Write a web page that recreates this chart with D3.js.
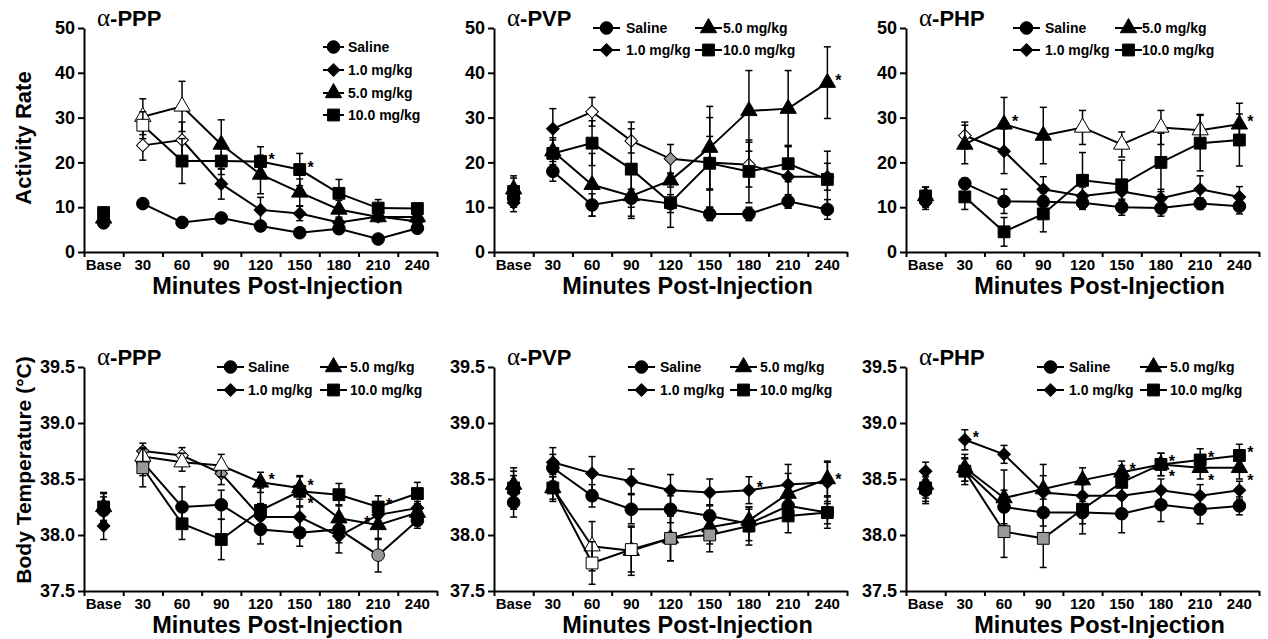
<!DOCTYPE html>
<html>
<head>
<meta charset="utf-8">
<script src="https://cdn.jsdelivr.net/npm/d3@7"></script>
<style>
  body { margin: 0; background: #fff; }
  svg { font-family: Arial, "Liberation Sans", sans-serif; font-weight: bold; }
</style>
</head>
<body>
<svg width="1268" height="639"></svg>
<script>
// categories and labels
const categories = ["Base", "30", "60", "90", "120", "150", "180", "210", "240"];
const doses = ["Saline", "1.0 mg/kg", "5.0 mg/kg", "10.0 mg/kg"];
const activityTicks = [0, 10, 20, 30, 40, 50];
const tempTicks = [37.5, 38.0, 38.5, 39.0, 39.5];

// fill codes: k = black, w = open, g = grey
// alpha-PPP activity
const pppActMean = [
  [6.5, 10.8, 6.6, 7.6, 5.8, 4.3, 5.2, 2.9, 5.3],
  [7.0, 23.8, 25.0, 15.2, 9.4, 8.6, 6.6, 7.9, 6.8],
  [7.5, 30.2, 32.5, 24.0, 17.3, 13.3, 9.5, 7.8, 7.8],
  [8.8, 28.3, 20.3, 20.3, 20.2, 18.4, 13.1, 9.8, 9.7]
];
const pppActErr = [
  [0.6, 1.0, 0.8, 0.8, 0.8, 0.6, 0.8, 0.6, 0.8],
  [0.8, 3.3, 4.0, 3.4, 2.8, 1.6, 1.2, 1.0, 1.0],
  [0.8, 4.0, 5.6, 5.5, 4.3, 3.0, 2.0, 1.0, 1.0],
  [0.8, 3.0, 5.0, 3.0, 3.3, 3.6, 3.1, 1.9, 1.0]
];
const pppActFill = ["kkkkkkkkk", "kwwkkkkkk", "kwwkkkkkk", "kwkkkkkkk"];
const pppActStars = [[3, 4, "ur"], [3, 5, "ur"]];

// alpha-PVP activity
const pvpActMean = [
  [12.0, 18.0, 10.5, 12.0, 10.8, 8.5, 8.5, 11.3, 9.5],
  [11.0, 27.5, 31.3, 24.8, 20.8, 20.0, 19.5, 16.8, 16.8],
  [14.0, 22.5, 15.0, 12.5, 16.0, 23.3, 31.5, 32.0, 37.8],
  [13.5, 22.0, 24.3, 18.5, 11.0, 19.8, 18.0, 19.7, 16.2]
];
const pvpActErr = [
  [2.0, 2.2, 2.5, 2.0, 2.0, 1.5, 1.5, 1.5, 2.2],
  [2.0, 4.5, 3.2, 2.7, 3.2, 10.0, 5.0, 7.0, 3.0],
  [3.0, 3.0, 7.0, 5.0, 1.5, 9.2, 9.0, 8.5, 8.0],
  [3.0, 3.0, 5.0, 10.5, 5.5, 6.0, 7.0, 4.0, 6.3]
];
const pvpActFill = ["kkkkkkkkk", "kkwwgkwkk", "kkkkkkkkk", "kkkkkkkkk"];
const pvpActStars = [[2, 8, "ur"]];

// alpha-PHP activity
const phpActMean = [
  [11.5, 15.3, 11.3, 11.2, 11.0, 10.0, 9.8, 10.8, 10.2],
  [11.0, 26.0, 22.5, 14.0, 12.5, 13.5, 12.0, 14.0, 12.3],
  [12.5, 24.0, 28.5, 26.0, 27.8, 24.0, 27.8, 27.2, 28.5],
  [12.5, 12.3, 4.5, 8.5, 16.0, 15.0, 20.0, 24.3, 25.0]
];
const phpActErr = [
  [1.5, 1.2, 2.7, 2.0, 1.5, 1.8, 1.8, 1.3, 1.7],
  [1.5, 3.0, 5.0, 2.8, 2.0, 2.0, 2.0, 3.0, 2.3],
  [2.0, 4.3, 6.0, 6.3, 3.8, 2.8, 3.8, 3.5, 4.7],
  [2.0, 2.8, 3.2, 4.0, 6.2, 5.5, 6.5, 6.2, 5.8]
];
const phpActFill = ["kkkkkkkkk", "kwkkkkkkk", "kkkkwwwwk", "kkkkkkkkk"];
const phpActStars = [[2, 2, "ur"], [2, 8, "ur"]];

// alpha-PPP temperature
const pppTempMean = [
  [38.22, 38.65, 38.25, 38.27, 38.05, 38.02, 38.05, 37.82, 38.13],
  [38.08, 38.75, 38.71, 38.55, 38.16, 38.16, 37.99, 38.18, 38.24],
  [38.25, 38.70, 38.65, 38.62, 38.47, 38.42, 38.15, 38.09, 38.20],
  [38.25, 38.60, 38.10, 37.96, 38.22, 38.39, 38.36, 38.25, 38.37]
];
const pppTempErr = [
  [0.12, 0.12, 0.18, 0.13, 0.13, 0.12, 0.12, 0.15, 0.07],
  [0.12, 0.07, 0.07, 0.10, 0.12, 0.10, 0.15, 0.10, 0.06],
  [0.12, 0.08, 0.08, 0.10, 0.09, 0.10, 0.12, 0.13, 0.08],
  [0.13, 0.17, 0.14, 0.18, 0.20, 0.14, 0.10, 0.10, 0.10]
];
const pppTempFill = ["kkkkkkkgk", "kgwgkkkkk", "kwwwkkkkk", "kgkkkkkkk"];
const pppTempStars = [[2, 4, "ur"], [2, 5, "ur"], [3, 5, "lr"], [3, 7, "ur"], [2, 7, "ul"]];

// alpha-PVP temperature
const pvpTempMean = [
  [38.29, 38.60, 38.35, 38.23, 38.23, 38.17, 38.10, 38.26, 38.20],
  [38.38, 38.65, 38.55, 38.48, 38.40, 38.38, 38.40, 38.45, 38.47],
  [38.45, 38.42, 37.90, 37.86, 37.97, 38.07, 38.13, 38.37, 38.50],
  [38.42, 38.42, 37.75, 37.87, 37.97, 38.00, 38.08, 38.17, 38.20]
];
const pvpTempErr = [
  [0.13, 0.12, 0.10, 0.13, 0.12, 0.10, 0.15, 0.10, 0.10],
  [0.15, 0.13, 0.15, 0.11, 0.14, 0.12, 0.12, 0.18, 0.19],
  [0.15, 0.10, 0.22, 0.22, 0.20, 0.15, 0.10, 0.18, 0.15],
  [0.15, 0.12, 0.19, 0.20, 0.20, 0.15, 0.17, 0.15, 0.14]
];
const pvpTempFill = ["kkkkkkkkk", "kkkkkkkkk", "kkwkkkkkk", "kkwwggkkk"];
const pvpTempStars = [[1, 6, "ur"], [1, 8, "ur"]];

// alpha-PHP temperature
const phpTempMean = [
  [38.40, 38.58, 38.25, 38.20, 38.20, 38.19, 38.27, 38.23, 38.26],
  [38.57, 38.85, 38.72, 38.38, 38.35, 38.35, 38.40, 38.35, 38.40],
  [38.45, 38.60, 38.33, 38.41, 38.49, 38.56, 38.63, 38.60, 38.60],
  [38.42, 38.57, 38.03, 37.97, 38.23, 38.47, 38.63, 38.67, 38.71]
];
const phpTempErr = [
  [0.12, 0.10, 0.15, 0.12, 0.10, 0.17, 0.15, 0.13, 0.08],
  [0.08, 0.09, 0.08, 0.15, 0.12, 0.12, 0.10, 0.10, 0.08],
  [0.12, 0.12, 0.25, 0.22, 0.11, 0.10, 0.10, 0.10, 0.10],
  [0.12, 0.12, 0.23, 0.26, 0.22, 0.15, 0.10, 0.10, 0.10]
];
const phpTempFill = ["kkkkkkkkk", "kkkkkkkkk", "kkkkkkkkk", "kkggkkkkk"];
const phpTempStars = [[1, 1, "ur"], [2, 5, "ur"], [3, 6, "ur"], [2, 6, "lr"], [3, 7, "ur"], [2, 7, "lr"], [3, 8, "ur"], [2, 8, "lr"]];

const svg = d3.select("svg");
const colX = [84, 494, 906];
const plotW = 353;
const rowY = [[28, 252], [367, 591]];
const fillColor = { k: "#000", w: "#fff", g: "#999" };
const symbols = [d3.symbolCircle, d3.symbolSquare, d3.symbolTriangle, d3.symbolSquare];
const symSize = [125, 80, 115, 140];

const panels = [
  { name: "PPP", row: 0, col: 0, mean: pppActMean, err: pppActErr, fill: pppActFill, stars: pppActStars,
    ticks: activityTicks, fmt: d3.format("d"), ytitle: "Activity Rate",
    legend: { type: "list", lx: 239, tx: 264, dy: [19, 42, 65, 87] } },
  { name: "PVP", row: 0, col: 1, mean: pvpActMean, err: pvpActErr, fill: pvpActFill, stars: pvpActStars,
    ticks: activityTicks, fmt: d3.format("d"),
    legend: { type: "grid", lx: [99, 201], tx: [132, 229], dy: [0, 22] } },
  { name: "PHP", row: 0, col: 2, mean: phpActMean, err: phpActErr, fill: phpActFill, stars: phpActStars,
    ticks: activityTicks, fmt: d3.format("d"),
    legend: { type: "grid", lx: [107, 209], tx: [139, 236], dy: [0, 22] } },
  { name: "PPP", row: 1, col: 0, mean: pppTempMean, err: pppTempErr, fill: pppTempFill, stars: pppTempStars,
    ticks: tempTicks, fmt: d3.format(".1f"), ytitle: "Body Temperature (°C)",
    legend: { type: "grid", lx: [133, 236], tx: [164, 266], dy: [0, 23] } },
  { name: "PVP", row: 1, col: 1, mean: pvpTempMean, err: pvpTempErr, fill: pvpTempFill, stars: pvpTempStars,
    ticks: tempTicks, fmt: d3.format(".1f"),
    legend: { type: "grid", lx: [134, 236], tx: [166, 266], dy: [0, 23] } },
  { name: "PHP", row: 1, col: 2, mean: phpTempMean, err: phpTempErr, fill: phpTempFill, stars: phpTempStars,
    ticks: tempTicks, fmt: d3.format(".1f"),
    legend: { type: "grid", lx: [131, 234], tx: [163, 264], dy: [0, 23] } }
];

function marker(g, s, x, y, fill) {
  g.append("path")
    .attr("d", d3.symbol(symbols[s], symSize[s])())
    .attr("transform", "translate(" + x + "," + y + ")" + (s === 1 ? " rotate(45)" : ""))
    .style("fill", fill)
    .style("stroke", "#000")
    .style("stroke-width", 1);
}

panels.forEach(p => {
  const x0 = colX[p.col], x1 = x0 + plotW;
  const yTop = rowY[p.row][0], yBot = rowY[p.row][1];
  const g = svg.append("g");

  const x = d3.scaleBand().domain(categories).range([x0, x1]);
  const xc = c => x(c) + x.bandwidth() / 2;
  const y = d3.scaleLinear().domain([p.ticks[0], p.ticks[p.ticks.length - 1]]).range([yBot, yTop]);

  // y axis
  const ya = g.append("g").attr("transform", "translate(" + x0 + ",0)")
    .call(d3.axisLeft(y).tickValues(p.ticks).tickFormat(p.fmt).tickSize(6).tickPadding(3).tickSizeOuter(0));
  ya.select(".domain").style("stroke-width", 2);
  ya.selectAll(".tick line").style("stroke-width", 2);
  ya.selectAll("text").style("font-size", "18px").style("font-family", "Arial, 'Liberation Sans', sans-serif").style("font-weight", "bold");

  // x axis: tick marks between categories, labels centered
  const xEdge = d3.scaleLinear().domain([0, categories.length]).range([x0, x1]);
  const xt = g.append("g").attr("transform", "translate(0," + yBot + ")")
    .call(d3.axisBottom(xEdge).tickValues(d3.range(categories.length + 1)).tickFormat("").tickSize(5).tickSizeOuter(0));
  xt.select(".domain").style("stroke-width", 2);
  xt.selectAll(".tick line").style("stroke-width", 2);
  const xl = g.append("g").attr("transform", "translate(0," + yBot + ")")
    .call(d3.axisBottom(x).tickSize(0).tickPadding(7));
  xl.select(".domain").remove();
  xl.selectAll("text").style("font-size", "15px").style("font-family", "Arial, 'Liberation Sans', sans-serif").style("font-weight", "bold");

  // axis titles
  g.append("text")
    .attr("x", (x0 + x1) / 2 + 17)
    .attr("y", yBot + 42)
    .attr("text-anchor", "middle")
    .style("font-size", "23.5px")
    .text("Minutes Post-Injection");
  if (p.ytitle) {
    g.append("text")
      .attr("transform", "translate(31," + ((yTop + yBot) / 2 - (p.row ? 9 : 2)) + ") rotate(-90)")
      .attr("text-anchor", "middle")
      .style("font-size", p.row ? "21px" : "22px")
      .text(p.ytitle);
  }

  // panel title
  const t = g.append("text").attr("x", x0 + 13).attr("y", yTop - 2).style("font-size", "22px");
  t.append("tspan").style("font-family", "'Liberation Serif', 'DejaVu Serif', serif").style("font-weight", "normal")
    .style("font-size", "25px").text("α");
  t.append("tspan").text("-" + p.name);

  // series
  p.mean.forEach((vals, s) => {
    const sg = g.append("g");
    // error bars
    vals.forEach((v, i) => {
      const cx = xc(categories[i]);
      const e = p.err[s][i];
      sg.append("line").attr("x1", cx).attr("x2", cx).attr("y1", y(v - e)).attr("y2", y(v + e))
        .style("stroke", "#000").style("stroke-width", 1.5);
      [v - e, v + e].forEach(w => {
        sg.append("line").attr("x1", cx - 3.5).attr("x2", cx + 3.5).attr("y1", y(w)).attr("y2", y(w))
          .style("stroke", "#000").style("stroke-width", 1.5);
      });
    });
    // connecting line, post-injection only
    const pts = vals.map((v, i) => [xc(categories[i]), y(v)]).slice(1);
    sg.append("path").attr("d", d3.line()(pts))
      .style("fill", "none").style("stroke", "#000").style("stroke-width", 2);
    vals.forEach((v, i) => marker(sg, s, xc(categories[i]), y(v), fillColor[p.fill[s][i]]));
  });

  // significance asterisks
  p.stars.forEach(([s, i, pos]) => {
    const cx = xc(categories[i]), cy = y(p.mean[s][i]);
    const dx = pos === "ul" ? -11 : 11;
    const dy = pos === "lr" ? 18 : 3;
    g.append("text").attr("x", cx + dx).attr("y", cy + dy)
      .attr("text-anchor", "middle").style("font-size", "16px").text("*");
  });

  // legend
  const L = p.legend;
  doses.forEach((d, s) => {
    let lx, tx, ly;
    if (L.type === "list") {
      lx = L.lx; tx = L.tx; ly = yTop + L.dy[s];
    } else {
      const c = Math.floor(s / 2), r = s % 2;
      lx = L.lx[c]; tx = L.tx[c]; ly = yTop + L.dy[r];
    }
    const a = x0 + lx, b = a + (L.type === "list" ? 21 : 27);
    g.append("line").attr("x1", a).attr("x2", b).attr("y1", ly).attr("y2", ly)
      .style("stroke", "#000").style("stroke-width", 2);
    marker(g, s, (a + b) / 2, ly, "#000");
    g.append("text").attr("x", x0 + tx).attr("y", ly + 5).style("font-size", "14px").text(d);
  });
});
</script>
</body>
</html>
